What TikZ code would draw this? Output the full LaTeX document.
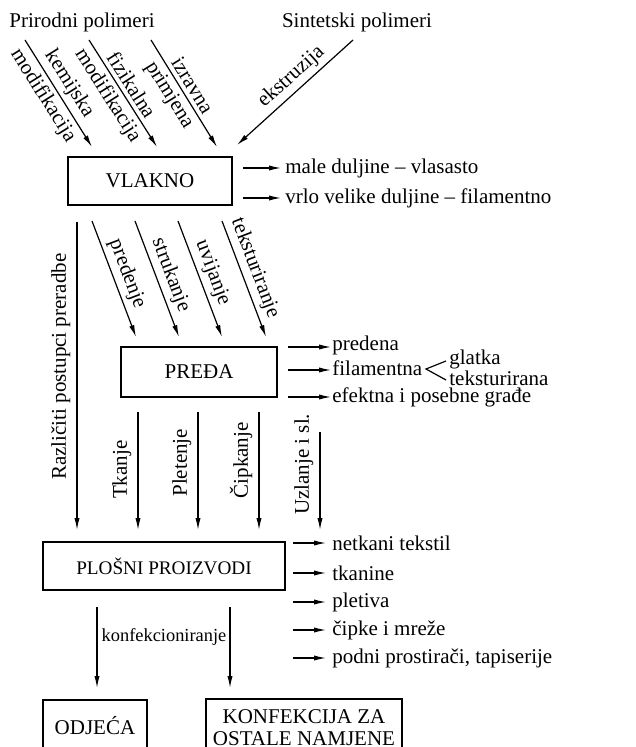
\documentclass[tikz,border=0pt]{standalone}
\usepackage{fontspec}
\setmainfont{Liberation Serif}
\usetikzlibrary{arrows.meta}
\tikzset{
	box/.style={draw, line width=1.1pt, inner sep=0pt},
	arr/.style={line width=0.6pt, -{Latex[length=6pt,width=2.6pt]}},
	lab/.style={sloped, inner sep=2pt},
	vlab/.style={rotate=90, anchor=south, inner sep=3pt},
	side/.style={anchor=west, inner sep=0.5pt}
}

\begin{document}
\begin{tikzpicture}[x=0.5pt, y=-0.5pt, font=\fontsize{10.5}{12.5}\selectfont]
		%%%%% START %%%%%
		\clip (0,0) rectangle (635,747);
		
		\node (prir) at (82,22) {Prirodni polimeri};
		\node (sint) at (357,22) {Sintetski polimeri};
		
		% prema vlaknu
		\foreach \n/\xa/\xb/\up/\dn in {kem/25/92/kemijska/modifikacija, fiz/89/157/fizikalna/modifikacija, izr/151/217/izravna/primjena}{
			\coordinate (\n-a) at (\xa,40);
			\coordinate (\n-b) at (\xb,147);
			\draw[arr] (\n-a) -- node[lab, above, pos=.48] {\up} node[lab, below, pos=.45] {\dn} (\n-b);
		}
		\coordinate (eks-a) at (353,40);
		\coordinate (eks-b) at (237,145);
		\draw[arr] (eks-a) -- node[lab, above, pos=.45] {ekstruzija} (eks-b);
		
		\node[box, minimum width=82pt, minimum height=24pt] (vlakno) at (150,181) {VLAKNO};
		\node[side] (male) at (284,168) {male duljine -- vlasasto};
		\node[side] (vrlo) at (284,198) {vrlo velike duljine -- filamentno};
		\draw[arr] ([xshift=-20.5pt]male.west) -- ([xshift=-1.5pt]male.west);
		\draw[arr] ([xshift=-20.5pt]vrlo.west) -- ([xshift=-1.5pt]vrlo.west);
		
		% prema predi
		\foreach \n/\xa/\t/\p in {pre/92/predenje/.5, str/135/strukanje/.51, uvi/178/uvijanje/.49, tek/222/teksturiranje/.45}{
			\coordinate (\n-a) at (\xa,221);
			\coordinate (\n-b) at (\xa+44,337);
			\draw[arr] (\n-a) -- node[lab, above, pos=\p] {\t} (\n-b);
		}
		
		\node[box, minimum width=78pt, minimum height=25pt] (preda) at (199,372) {PREĐA};
		\node[side] (predena) at (331,345) {predena};
		\node[side] (fil) at (331,368) {filamentna};
		\node[side] (efekt) at (331,397) {efektna i posebne građe};
		\foreach \n/\y in {predena/347, fil/370, efekt/397}
			\draw[arr] (288,\y) -- (\n.west |- 0,\y);
		\node[side] (glatka) at (448,359) {glatka};
		\node[side] (tekst) at (448,378) {teksturirana};
		\coordinate (fork) at (426,369);
		\draw[line width=0.6pt] ([xshift=-1pt,yshift=-1pt]glatka.west) -- (fork) -- ([xshift=-1pt,yshift=-1pt]tekst.west);
		
		% prema plosnim proizvodima
		\coordinate (raz-a) at (77,222);
		\coordinate (raz-b) at (77,530);
		\draw[arr] (raz-a) -- node[vlab, pos=.47] {Različiti postupci preradbe} (raz-b);
		\foreach \n/\x/\ya/\t/\p in {tka/138/412/Tkanje/.49, ple/198/412/Pletenje/.43, cip/259/412/Čipkanje/.41, uzl/320/432/Uzlanje i sl./.33}{
			\coordinate (\n-a) at (\x,\ya);
			\coordinate (\n-b) at (\x,530);
			\draw[arr] (\n-a) -- node[vlab, pos=\p] {\t} (\n-b);
		}
		
		\node[box, minimum width=121pt, minimum height=24pt, font=\fontsize{9.6}{11}\selectfont] (plosni) at (164,566) {PLOŠNI PROIZVODI};
		\foreach \n/\y/\t in {net/543/netkani tekstil, tkn/573/tkanine, plt/602/pletiva, cpk/630/čipke i mreže, pod/658/{podni prostirači, tapiserije}}{
			\node[side] (\n) at (331,\y) {\t};
			\draw[arr] ([xshift=-19pt]\n.west) -- ([xshift=-2.5pt]\n.west);
		}
		
		% konfekcioniranje
		\coordinate (odj-a) at (97,607);
		\coordinate (odj-b) at (97,688);
		\coordinate (kon-a) at (230,607);
		\coordinate (kon-b) at (230,688);
		\draw[arr] (odj-a) -- (odj-b);
		\draw[arr] (kon-a) -- (kon-b);
		\node[font=\fontsize{9.2}{11}\selectfont] (konf) at (164,637) {konfekcioniranje};
		
		\node[box, minimum width=52pt, minimum height=26pt] (odjeca) at (95,726) {ODJEĆA};
		\node[box, minimum width=98pt, minimum height=29pt, align=center] (ostalo) at (304,728) {KONFEKCIJA ZA\\[-1.5pt] OSTALE NAMJENE};
		%%%%% END %%%%%
	\end{tikzpicture}
\end{document}
